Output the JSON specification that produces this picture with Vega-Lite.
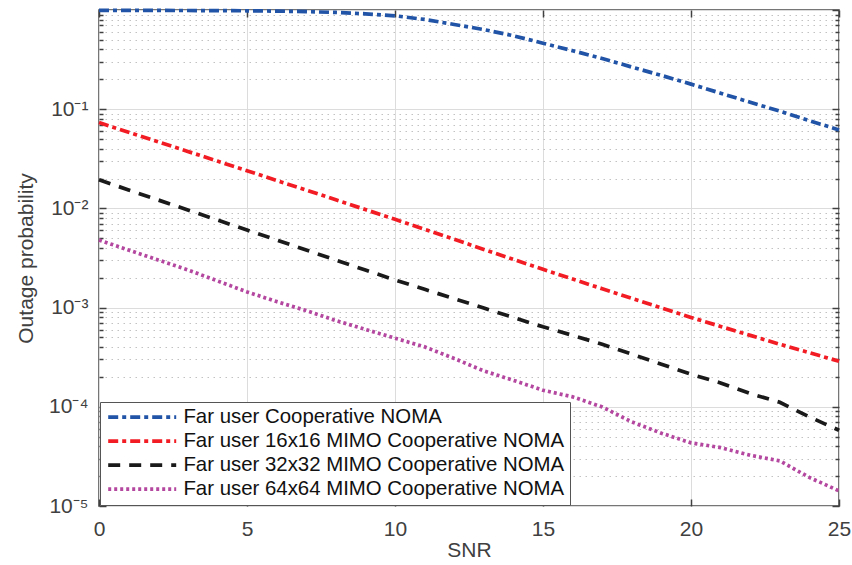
{
  "$schema": "https://vega.github.io/schema/vega-lite/v6.json",
  "width": 740,
  "height": 496,
  "autosize": {"type": "none"},
  "padding": {"left": 99, "top": 10, "right": 13, "bottom": 59},
  "background": "white",
  "config": {
    "view": {"stroke": "#4a4a4a", "strokeWidth": 1.5},
    "font": "Liberation Sans",
    "axis": {"labelFont": "Liberation Sans", "titleFont": "Liberation Sans", "titleFontWeight": "normal"},
    "legend": {
      "orient": "bottom-left", "offset": 1, "symbolType": "M-17,0H17", "symbolSize": 16,
      "symbolOffset": 27, "labelOffset": 31,
      "symbolStrokeWidth": 3.7, "labelFont": "Liberation Sans", "labelFontSize": 20.4,
      "labelColor": "#111111", "labelLimit": 700, "fillColor": "white", "strokeColor": "#555555",
      "padding": 5, "rowPadding": 3
    }
  },
  "data": {"values": [
    {"series": "Far user Cooperative NOMA", "snr": 0, "p": 0.99},
    {"series": "Far user Cooperative NOMA", "snr": 1, "p": 0.99},
    {"series": "Far user Cooperative NOMA", "snr": 2, "p": 0.99},
    {"series": "Far user Cooperative NOMA", "snr": 3, "p": 0.988},
    {"series": "Far user Cooperative NOMA", "snr": 4, "p": 0.986},
    {"series": "Far user Cooperative NOMA", "snr": 5, "p": 0.982},
    {"series": "Far user Cooperative NOMA", "snr": 6, "p": 0.975},
    {"series": "Far user Cooperative NOMA", "snr": 7, "p": 0.963},
    {"series": "Far user Cooperative NOMA", "snr": 8, "p": 0.945},
    {"series": "Far user Cooperative NOMA", "snr": 9, "p": 0.915},
    {"series": "Far user Cooperative NOMA", "snr": 10, "p": 0.874},
    {"series": "Far user Cooperative NOMA", "snr": 11, "p": 0.803},
    {"series": "Far user Cooperative NOMA", "snr": 12, "p": 0.715},
    {"series": "Far user Cooperative NOMA", "snr": 13, "p": 0.635},
    {"series": "Far user Cooperative NOMA", "snr": 14, "p": 0.55},
    {"series": "Far user Cooperative NOMA", "snr": 15, "p": 0.463},
    {"series": "Far user Cooperative NOMA", "snr": 16, "p": 0.389},
    {"series": "Far user Cooperative NOMA", "snr": 17, "p": 0.324},
    {"series": "Far user Cooperative NOMA", "snr": 18, "p": 0.266},
    {"series": "Far user Cooperative NOMA", "snr": 19, "p": 0.219},
    {"series": "Far user Cooperative NOMA", "snr": 20, "p": 0.179},
    {"series": "Far user Cooperative NOMA", "snr": 21, "p": 0.145},
    {"series": "Far user Cooperative NOMA", "snr": 22, "p": 0.1175},
    {"series": "Far user Cooperative NOMA", "snr": 23, "p": 0.0955},
    {"series": "Far user Cooperative NOMA", "snr": 24, "p": 0.0767},
    {"series": "Far user Cooperative NOMA", "snr": 25, "p": 0.0618},
    {"series": "Far user 16x16 MIMO Cooperative NOMA", "snr": 0, "p": 0.0733},
    {"series": "Far user 16x16 MIMO Cooperative NOMA", "snr": 1, "p": 0.0586},
    {"series": "Far user 16x16 MIMO Cooperative NOMA", "snr": 2, "p": 0.0469},
    {"series": "Far user 16x16 MIMO Cooperative NOMA", "snr": 3, "p": 0.0375},
    {"series": "Far user 16x16 MIMO Cooperative NOMA", "snr": 4, "p": 0.03},
    {"series": "Far user 16x16 MIMO Cooperative NOMA", "snr": 5, "p": 0.024},
    {"series": "Far user 16x16 MIMO Cooperative NOMA", "snr": 6, "p": 0.0191},
    {"series": "Far user 16x16 MIMO Cooperative NOMA", "snr": 7, "p": 0.0153},
    {"series": "Far user 16x16 MIMO Cooperative NOMA", "snr": 8, "p": 0.0122},
    {"series": "Far user 16x16 MIMO Cooperative NOMA", "snr": 9, "p": 0.00973},
    {"series": "Far user 16x16 MIMO Cooperative NOMA", "snr": 10, "p": 0.00776},
    {"series": "Far user 16x16 MIMO Cooperative NOMA", "snr": 11, "p": 0.00615},
    {"series": "Far user 16x16 MIMO Cooperative NOMA", "snr": 12, "p": 0.00488},
    {"series": "Far user 16x16 MIMO Cooperative NOMA", "snr": 13, "p": 0.00386},
    {"series": "Far user 16x16 MIMO Cooperative NOMA", "snr": 14, "p": 0.00306},
    {"series": "Far user 16x16 MIMO Cooperative NOMA", "snr": 15, "p": 0.00243},
    {"series": "Far user 16x16 MIMO Cooperative NOMA", "snr": 16, "p": 0.00194},
    {"series": "Far user 16x16 MIMO Cooperative NOMA", "snr": 17, "p": 0.00155},
    {"series": "Far user 16x16 MIMO Cooperative NOMA", "snr": 18, "p": 0.00124},
    {"series": "Far user 16x16 MIMO Cooperative NOMA", "snr": 19, "p": 0.000993},
    {"series": "Far user 16x16 MIMO Cooperative NOMA", "snr": 20, "p": 0.000796},
    {"series": "Far user 16x16 MIMO Cooperative NOMA", "snr": 21, "p": 0.000646},
    {"series": "Far user 16x16 MIMO Cooperative NOMA", "snr": 22, "p": 0.000525},
    {"series": "Far user 16x16 MIMO Cooperative NOMA", "snr": 23, "p": 0.000427},
    {"series": "Far user 16x16 MIMO Cooperative NOMA", "snr": 24, "p": 0.000351},
    {"series": "Far user 16x16 MIMO Cooperative NOMA", "snr": 25, "p": 0.000288},
    {"series": "Far user 32x32 MIMO Cooperative NOMA", "snr": 0, "p": 0.0194},
    {"series": "Far user 32x32 MIMO Cooperative NOMA", "snr": 1, "p": 0.01535},
    {"series": "Far user 32x32 MIMO Cooperative NOMA", "snr": 2, "p": 0.01216},
    {"series": "Far user 32x32 MIMO Cooperative NOMA", "snr": 3, "p": 0.00964},
    {"series": "Far user 32x32 MIMO Cooperative NOMA", "snr": 4, "p": 0.00764},
    {"series": "Far user 32x32 MIMO Cooperative NOMA", "snr": 5, "p": 0.00605},
    {"series": "Far user 32x32 MIMO Cooperative NOMA", "snr": 6, "p": 0.0048},
    {"series": "Far user 32x32 MIMO Cooperative NOMA", "snr": 7, "p": 0.0038},
    {"series": "Far user 32x32 MIMO Cooperative NOMA", "snr": 8, "p": 0.00302},
    {"series": "Far user 32x32 MIMO Cooperative NOMA", "snr": 9, "p": 0.00239},
    {"series": "Far user 32x32 MIMO Cooperative NOMA", "snr": 10, "p": 0.0019},
    {"series": "Far user 32x32 MIMO Cooperative NOMA", "snr": 11, "p": 0.00153},
    {"series": "Far user 32x32 MIMO Cooperative NOMA", "snr": 12, "p": 0.00123},
    {"series": "Far user 32x32 MIMO Cooperative NOMA", "snr": 13, "p": 0.00099},
    {"series": "Far user 32x32 MIMO Cooperative NOMA", "snr": 14, "p": 0.000794},
    {"series": "Far user 32x32 MIMO Cooperative NOMA", "snr": 15, "p": 0.00064},
    {"series": "Far user 32x32 MIMO Cooperative NOMA", "snr": 16, "p": 0.000525},
    {"series": "Far user 32x32 MIMO Cooperative NOMA", "snr": 17, "p": 0.000427},
    {"series": "Far user 32x32 MIMO Cooperative NOMA", "snr": 18, "p": 0.000339},
    {"series": "Far user 32x32 MIMO Cooperative NOMA", "snr": 19, "p": 0.000269},
    {"series": "Far user 32x32 MIMO Cooperative NOMA", "snr": 20, "p": 0.000213},
    {"series": "Far user 32x32 MIMO Cooperative NOMA", "snr": 21, "p": 0.000174},
    {"series": "Far user 32x32 MIMO Cooperative NOMA", "snr": 22, "p": 0.000136},
    {"series": "Far user 32x32 MIMO Cooperative NOMA", "snr": 23, "p": 0.000111},
    {"series": "Far user 32x32 MIMO Cooperative NOMA", "snr": 24, "p": 0.000079},
    {"series": "Far user 32x32 MIMO Cooperative NOMA", "snr": 25, "p": 0.000058},
    {"series": "Far user 64x64 MIMO Cooperative NOMA", "snr": 0, "p": 0.0048},
    {"series": "Far user 64x64 MIMO Cooperative NOMA", "snr": 1, "p": 0.0038},
    {"series": "Far user 64x64 MIMO Cooperative NOMA", "snr": 2, "p": 0.00302},
    {"series": "Far user 64x64 MIMO Cooperative NOMA", "snr": 3, "p": 0.0024},
    {"series": "Far user 64x64 MIMO Cooperative NOMA", "snr": 4, "p": 0.00186},
    {"series": "Far user 64x64 MIMO Cooperative NOMA", "snr": 5, "p": 0.00144},
    {"series": "Far user 64x64 MIMO Cooperative NOMA", "snr": 6, "p": 0.00115},
    {"series": "Far user 64x64 MIMO Cooperative NOMA", "snr": 7, "p": 0.000933},
    {"series": "Far user 64x64 MIMO Cooperative NOMA", "snr": 8, "p": 0.000741},
    {"series": "Far user 64x64 MIMO Cooperative NOMA", "snr": 9, "p": 0.000603},
    {"series": "Far user 64x64 MIMO Cooperative NOMA", "snr": 10, "p": 0.000492},
    {"series": "Far user 64x64 MIMO Cooperative NOMA", "snr": 11, "p": 0.000402},
    {"series": "Far user 64x64 MIMO Cooperative NOMA", "snr": 12, "p": 0.000307},
    {"series": "Far user 64x64 MIMO Cooperative NOMA", "snr": 13, "p": 0.00023},
    {"series": "Far user 64x64 MIMO Cooperative NOMA", "snr": 14, "p": 0.000185},
    {"series": "Far user 64x64 MIMO Cooperative NOMA", "snr": 15, "p": 0.000147},
    {"series": "Far user 64x64 MIMO Cooperative NOMA", "snr": 16, "p": 0.000126},
    {"series": "Far user 64x64 MIMO Cooperative NOMA", "snr": 17, "p": 0.0000997},
    {"series": "Far user 64x64 MIMO Cooperative NOMA", "snr": 18, "p": 0.0000704},
    {"series": "Far user 64x64 MIMO Cooperative NOMA", "snr": 19, "p": 0.0000542},
    {"series": "Far user 64x64 MIMO Cooperative NOMA", "snr": 20, "p": 0.0000433},
    {"series": "Far user 64x64 MIMO Cooperative NOMA", "snr": 21, "p": 0.0000388},
    {"series": "Far user 64x64 MIMO Cooperative NOMA", "snr": 22, "p": 0.0000325},
    {"series": "Far user 64x64 MIMO Cooperative NOMA", "snr": 23, "p": 0.0000285},
    {"series": "Far user 64x64 MIMO Cooperative NOMA", "snr": 24, "p": 0.0000194},
    {"series": "Far user 64x64 MIMO Cooperative NOMA", "snr": 25, "p": 0.0000142}
  ]},
  "layer": [
    {
      "mark": {"type": "line", "strokeWidth": 3.7},
      "encoding": {
        "x": {
          "field": "snr", "type": "quantitative",
          "scale": {"domain": [0, 25], "nice": false},
          "axis": {
            "orient": "bottom", "values": [0, 5, 10, 15, 20, 25], "title": "SNR",
            "titleFontSize": 21, "titleColor": "#404040", "titlePadding": 0,
            "labelFontSize": 21, "labelColor": "#404040", "labelPadding": 19, "labelFlush": false,
            "tickSize": -7, "tickColor": "#404040", "tickWidth": 1.5, "domain": false,
            "grid": true, "gridColor": "#dcdcdc", "gridWidth": 1
          }
        },
        "y": {
          "field": "p", "type": "quantitative",
          "scale": {"type": "log", "domain": [0.00001, 1], "nice": false},
          "axis": {
            "orient": "left",
            "values": [0.00001, 0.00002, 0.00003, 0.00004, 0.00005, 0.00006, 0.00007, 0.00008, 0.00009,
                       0.0001, 0.0002, 0.0003, 0.0004, 0.0005, 0.0006, 0.0007, 0.0008, 0.0009,
                       0.001, 0.002, 0.003, 0.004, 0.005, 0.006, 0.007, 0.008, 0.009,
                       0.01, 0.02, 0.03, 0.04, 0.05, 0.06, 0.07, 0.08, 0.09,
                       0.1, 0.2, 0.3, 0.4, 0.5, 0.6, 0.7, 0.8, 0.9, 1],
            "labelExpr": "datum.value == 0.1 ? '10⁻¹' : datum.value == 0.01 ? '10⁻²' : datum.value == 0.001 ? '10⁻³' : datum.value == 0.0001 ? '10⁻⁴' : datum.value == 0.00001 ? '10⁻⁵' : ''",
            "labelOverlap": false, "labelFontSize": 21, "labelColor": "#404040", "labelPadding": 18,
            "title": "Outage probability", "titleFontSize": 21, "titleColor": "#404040", "titlePadding": 12,
            "domain": false, "tickColor": "#404040", "tickWidth": 1.5,
            "tickSize": {"condition": {"test": "abs(log(datum.value)/LN10 - round(log(datum.value)/LN10)) < 0.001", "value": -7}, "value": -4},
            "grid": true,
            "gridColor": {"condition": {"test": "abs(log(datum.value)/LN10 - round(log(datum.value)/LN10)) < 0.001", "value": "#dcdcdc"}, "value": "#c2c2c2"},
            "gridDash": {"condition": {"test": "abs(log(datum.value)/LN10 - round(log(datum.value)/LN10)) < 0.001", "value": []}, "value": [1.5, 4.5]},
            "gridWidth": 1
          }
        },
        "color": {
          "field": "series", "type": "nominal",
          "scale": {
            "domain": ["Far user Cooperative NOMA", "Far user 16x16 MIMO Cooperative NOMA", "Far user 32x32 MIMO Cooperative NOMA", "Far user 64x64 MIMO Cooperative NOMA"],
            "range": ["#2153a6", "#f21c24", "#1a1a1a", "#b4479f"]
          },
          "legend": {"title": null}
        },
        "strokeDash": {
          "field": "series", "type": "nominal",
          "scale": {
            "domain": ["Far user Cooperative NOMA", "Far user 16x16 MIMO Cooperative NOMA", "Far user 32x32 MIMO Cooperative NOMA", "Far user 64x64 MIMO Cooperative NOMA"],
            "range": [[10, 4, 4, 4], [10, 4, 4, 4], [12, 9], [3, 3]]
          },
          "legend": {"title": null}
        }
      }
    },
    {
      "mark": {"type": "point", "opacity": 0},
      "encoding": {
        "x": {
          "field": "snr", "type": "quantitative",
          "axis": {"orient": "top", "values": [0, 5, 10, 15, 20, 25], "labels": false, "title": null, "domain": false, "grid": false, "tickSize": -7, "tickColor": "#404040", "tickWidth": 1.5}
        },
        "y": {
          "field": "p", "type": "quantitative",
          "axis": {
            "orient": "right", "labels": false, "title": null, "domain": false, "grid": false,
            "values": [0.00001, 0.00002, 0.00003, 0.00004, 0.00005, 0.00006, 0.00007, 0.00008, 0.00009,
                       0.0001, 0.0002, 0.0003, 0.0004, 0.0005, 0.0006, 0.0007, 0.0008, 0.0009,
                       0.001, 0.002, 0.003, 0.004, 0.005, 0.006, 0.007, 0.008, 0.009,
                       0.01, 0.02, 0.03, 0.04, 0.05, 0.06, 0.07, 0.08, 0.09,
                       0.1, 0.2, 0.3, 0.4, 0.5, 0.6, 0.7, 0.8, 0.9, 1],
            "tickColor": "#404040", "tickWidth": 1.5,
            "tickSize": {"condition": {"test": "abs(log(datum.value)/LN10 - round(log(datum.value)/LN10)) < 0.001", "value": -7}, "value": -4}
          }
        }
      }
    }
  ],
  "resolve": {"axis": {"x": "independent", "y": "independent"}}
}
